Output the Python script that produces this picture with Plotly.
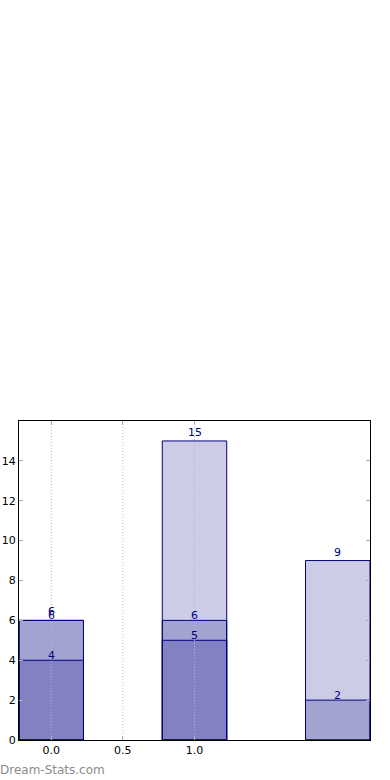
import plotly.graph_objects as go

positions = [0.0, 1.0, 2.0]
series_a = [4, 5, None]
series_b = [6, 6, 2]
series_c = [6, 15, 9]
x_ticks = [0.0, 0.5, 1.0]
x_tick_labels = ["0.0", "0.5", "1.0"]
y_ticks = [0, 2, 4, 6, 8, 10, 12, 14]

fill = "rgba(0,0,128,0.2)"
edge = "#000080"

fig = go.Figure()
label_shifts = {"c": 0, "b": -4, "a": -4}
for key, vals in [("c", series_c), ("b", series_b), ("a", series_a)]:
    fig.add_trace(go.Bar(
        x=positions, y=vals, width=0.45,
        marker=dict(color=fill, line=dict(color=edge, width=1)),
        showlegend=False, hoverinfo="skip",
    ))
    for xp, v in zip(positions, vals):
        if v is None:
            continue
        fig.add_annotation(
            x=xp, y=v, text=str(v), showarrow=False,
            yanchor="bottom", yshift=label_shifts[key],
            font=dict(family="DejaVu Sans", size=11, color=edge),
        )

for t in x_ticks:
    fig.add_shape(type="line", x0=t, x1=t, y0=0, y1=1, xref="x", yref="paper",
                  line=dict(color="#b8b8b8", width=1, dash="1px,2px"), layer="above")

fig.add_annotation(
    x=0, y=0, xref="paper", yref="paper", xanchor="left", yanchor="bottom",
    text="Dream-Stats.com", showarrow=False, xshift=-21, yshift=-39,
    font=dict(family="DejaVu Sans", size=12, color="#8c8c8c"),
)

axis_common = dict(
    showline=True, linecolor="black", linewidth=1, mirror="allticks",
    ticks="inside", ticklen=4, tickcolor="#aaaaaa", showgrid=False, zeroline=False,
    automargin=False,
    tickfont=dict(family="DejaVu Sans", size=11, color="black"),
)
fig.update_layout(
    width=390, height=780, barmode="overlay",
    paper_bgcolor="white", plot_bgcolor="white",
    margin=dict(l=19, r=20, t=421, b=40),
    xaxis=dict(range=[-0.225, 2.225], tickvals=x_ticks, ticktext=x_tick_labels, **axis_common),
    yaxis=dict(range=[0, 16], tickvals=y_ticks, **axis_common),
)
fig.write_html("out.html", config={"displayModeBar": False},
               post_script="document.body.style.margin='0';")
